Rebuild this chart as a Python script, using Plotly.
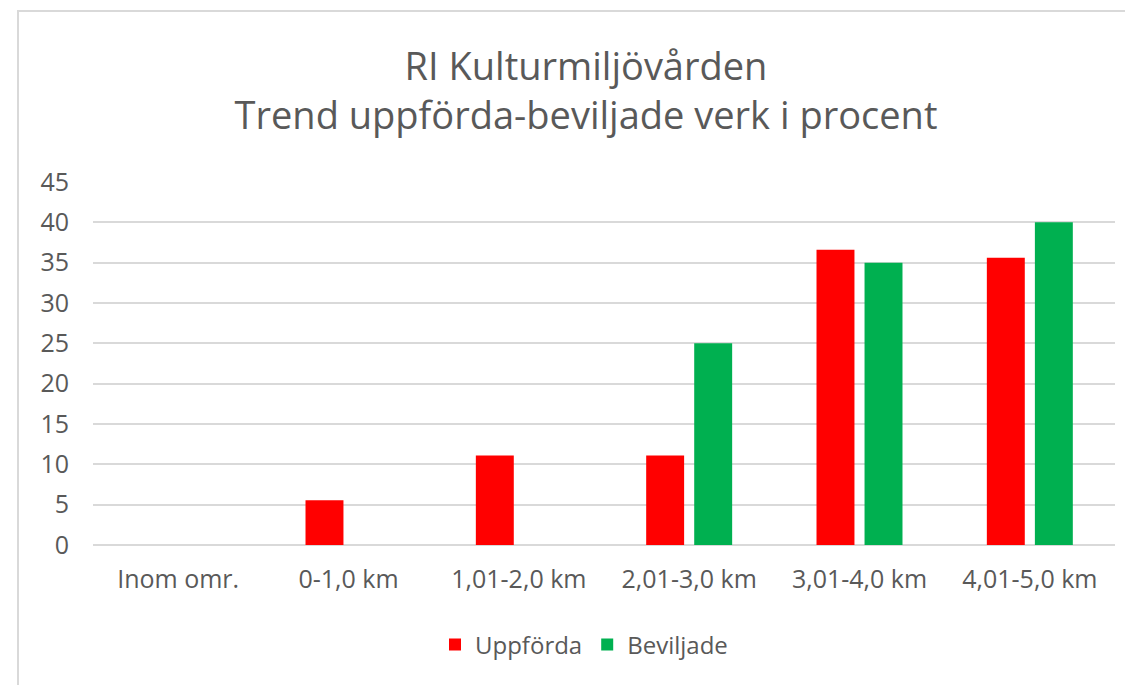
import plotly.graph_objects as go

categories = ["Inom omr.", "0-1,0 km", "1,01-2,0 km", "2,01-3,0 km", "3,01-4,0 km", "4,01-5,0 km"]
uppforda = [0, 5.56, 11.11, 11.11, 36.6, 35.6]
beviljade = [0, 0, 0, 25, 35, 40]
y_ticks = [0, 5, 10, 15, 20, 25, 30, 35, 40, 45]

OFF = 8  # page body margin
W, H = 1133 - OFF, 685 - OFF
ml = 93 - OFF
mt = 182 - OFF
mr = W - (1115 - OFF)
mb = H - (545 - OFF)
pw = W - ml - mr
ph = H - mt - mb

fig = go.Figure()
fig.add_trace(go.Bar(x=categories, y=uppforda, name="Uppförda",
                     marker=dict(color="#FF0000", line=dict(width=0))))
fig.add_trace(go.Bar(x=categories, y=beviljade, name="Beviljade",
                     marker=dict(color="#00B050", line=dict(width=0))))

font_family = "Open Sans, Liberation Sans, sans-serif"
fig.update_layout(
    width=W, height=H,
    margin=dict(l=ml, r=mr, t=mt, b=mb),
    paper_bgcolor="white", plot_bgcolor="white",
    barmode="group", bargap=0.436, bargroupgap=0.21,
    title=dict(text="RI Kulturmiljövården<br>Trend uppförda-beviljade verk i procent",
               x=(586 - OFF) / W, xref="container", xanchor="center",
               y=1 - 72 / H, yref="container", yanchor="top",
               font=dict(family=font_family, size=38, color="#595959")),
    font=dict(family=font_family, color="#595959"),
    showlegend=True,
    legend=dict(orientation="h", x=(584 - 93) / (1115 - 93), xanchor="center",
                y=-(645 - 545) / ph, yanchor="middle",
                font=dict(size=24, color="#595959"), traceorder="normal"),
    xaxis=dict(showgrid=False, showline=False, ticks="", tickfont=dict(size=25, color="#595959"),
               ticklabelstandoff=17),
    yaxis=dict(range=[0, 45], tickvals=y_ticks, showgrid=True, gridcolor="#D9D9D9", gridwidth=1.5,
               zeroline=True, zerolinecolor="#D9D9D9", zerolinewidth=1.5,
               ticks="", tickfont=dict(size=25, color="#595959"), ticklabelstandoff=23),
)

# chart-area border
fig.add_shape(type="rect", xref="paper", yref="paper",
              x0=(18 - 93) / pw, x1=1.2, y0=-1.0, y1=(545 - 11) / ph,
              line=dict(color="#D9D9D9", width=2), fillcolor="rgba(0,0,0,0)", layer="below")

fig.write_html("out.html")
